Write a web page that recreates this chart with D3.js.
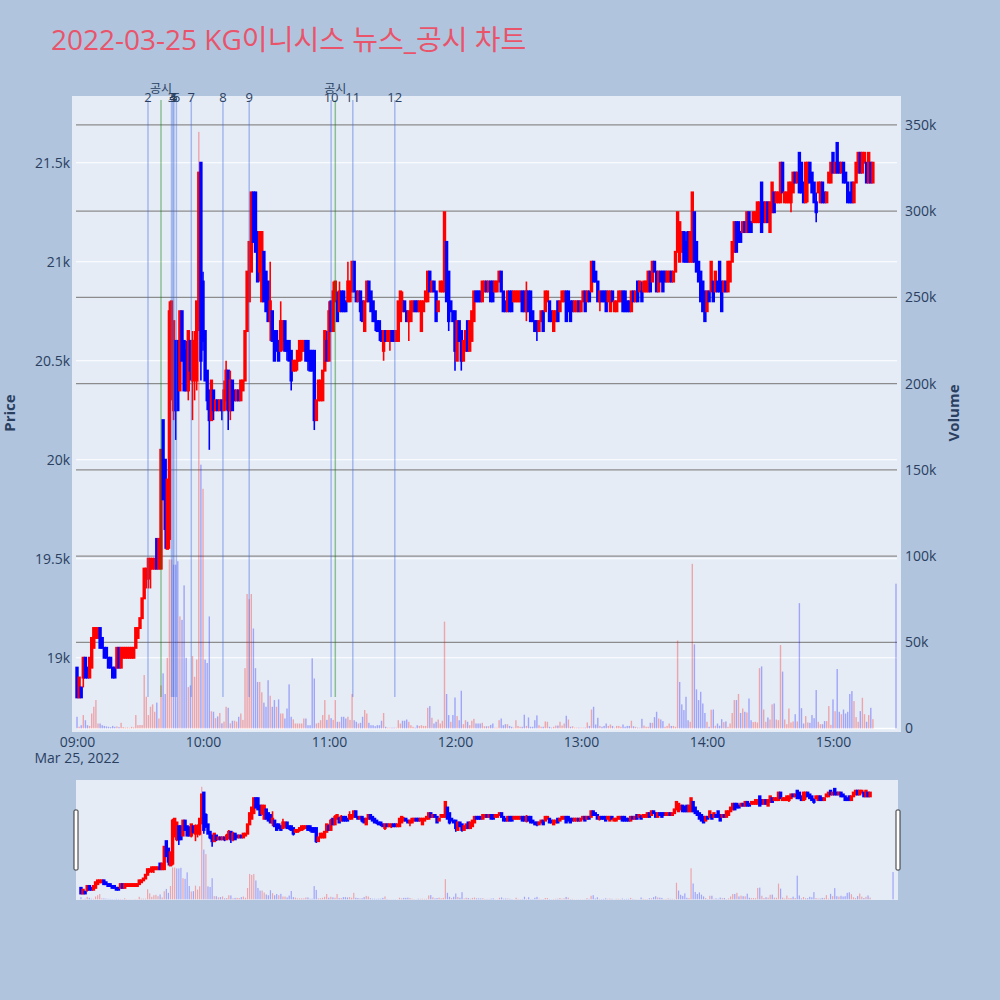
<!DOCTYPE html>
<html><head><meta charset="utf-8">
<script src="https://cdn.jsdelivr.net/npm/d3@7"></script>
<style>body{margin:0;background:#b0c4de;}svg{display:block}</style>
</head><body><svg id="chart" width="1000" height="1000"></svg>
<script>
const chartTitle = "2022-03-25 KG이니시스 뉴스_공시 차트";
const tradeDate = "2022-03-25";
const firstBarTime = "09:00";
const open = [
18950,18800,18850,18900,19000,18950,18900,18950,19050,19100,
19100,19150,19100,19050,19050,19000,19000,18950,18950,18950,
19050,18950,19000,19000,19000,19000,19000,19000,19050,19100,
19150,19200,19300,19400,19400,19450,19450,19450,19600,19450,
19450,20200,20000,19550,19600,20400,20250,20600,20600,20350,
20750,20600,20550,20350,20600,20400,20450,20400,20700,21500,
20900,20650,20450,20350,20200,20350,20250,20300,20250,20300,
20250,20300,20450,20250,20400,20350,20300,20350,20300,20350,
20400,20650,20800,20950,21350,21350,21150,20950,20800,21050,
20950,20900,20700,20750,20650,20650,20600,20550,20600,20700,
20600,20600,20550,20450,20450,20500,20500,20550,20550,20600,
20600,20550,20550,20550,20200,20300,20300,20300,20450,20600,
20500,20800,20650,20800,20800,20750,20850,20850,20800,20800,
20800,20850,21000,20850,20800,20850,20800,20650,20800,20900,
20850,20800,20750,20700,20700,20650,20550,20650,20600,20600,
20650,20650,20600,20600,20700,20750,20800,20750,20700,20700,
20750,20800,20800,20750,20650,20750,20800,20800,20950,20850,
20900,20850,20750,20850,20850,20850,21100,20950,20800,20750,
20750,20500,20700,20650,20500,20550,20700,20550,20600,20700,
20850,20850,20850,20800,20850,20900,20850,20900,20900,20850,
20850,20900,20950,20850,20800,20750,20850,20850,20800,20800,
20800,20800,20850,20850,20750,20850,20850,20750,20700,20700,
20650,20700,20750,20750,20800,20800,20750,20650,20700,20800,
20750,20800,20800,20850,20850,20800,20800,20750,20750,20800,
20750,20800,20850,20800,20850,20850,21000,20950,20900,20800,
20850,20850,20850,20800,20750,20850,20750,20750,20800,20800,
20850,20850,20800,20800,20750,20850,20800,20900,20850,20850,
20850,20850,20850,20950,20900,21000,20950,20850,20950,20950,
20950,20900,20900,20950,20900,20950,21050,21000,21050,21150,
21100,21150,21000,21000,21250,21100,21000,20950,20900,20850,
20750,20850,20850,20900,20850,20900,21000,20900,20850,20900,
20850,20900,21000,21050,21200,21200,21150,21150,21200,21150,
21250,21200,21200,21200,21200,21200,21400,21300,21200,21300,
21150,21250,21350,21300,21300,21300,21500,21300,21300,21300,
21300,21350,21450,21400,21550,21500,21400,21300,21400,21500,
21450,21400,21300,21350,21300,21400,21350,21300,21400,21400,
21550,21450,21600,21500,21450,21500,21450,21400,21350,21400,
21300,21400,21450,21550,21450,21500,21500,21400,21500,21400];
const high = [
18950,18900,18850,19000,19000,18950,19000,19100,19150,19150,
19150,19150,19100,19050,19050,19000,19000,18950,18950,19050,
19050,19050,19050,19050,19050,19050,19050,19050,19150,19150,
19200,19300,19450,19450,19500,19500,19500,19500,19600,19600,
20050,20200,20000,19900,20800,20800,20700,20600,20600,20750,
20750,20600,20600,20650,20600,20650,20650,20800,21450,21500,
20950,20650,20450,20350,20400,20350,20300,20300,20300,20300,
20400,20500,20450,20450,20400,20350,20350,20350,20400,20400,
20650,20950,21100,21350,21350,21350,21150,21150,21150,21050,
20950,20900,21000,20750,20650,20650,20600,20800,20700,20700,
20600,20600,20550,20500,20500,20550,20600,20600,20600,20600,
20600,20550,20550,20550,20300,20400,20400,20450,20650,20650,
20800,20800,20900,20900,20850,20900,20850,20850,20800,21000,
20900,21000,21000,20850,20850,20850,20800,20800,20900,20900,
20850,20800,20750,20700,20700,20650,20650,20650,20650,20650,
20650,20650,20650,20800,20850,20850,20800,20750,20750,20800,
20800,20800,20800,20800,20800,20800,20850,20950,20950,20900,
20900,20850,20800,20900,20900,21250,21100,20950,20800,20750,
20750,20700,20700,20650,20600,20650,20700,20700,20750,20850,
20850,20850,20850,20900,20900,20900,20900,20900,20900,20900,
20900,20950,20950,20850,20800,20850,20850,20850,20850,20850,
20850,20850,20850,20850,20900,20850,20850,20750,20700,20700,
20700,20750,20750,20850,20850,20800,20750,20750,20750,20800,
20800,20850,20850,20850,20850,20800,20800,20800,20800,20800,
20800,20850,20850,20850,20850,21000,21000,20950,20900,20850,
20850,20850,20850,20850,20850,20850,20800,20800,20850,20850,
20850,20850,20800,20800,20850,20850,20850,20900,20900,20900,
20900,20900,20950,20950,21000,21000,20950,20950,20950,20950,
20950,20950,20950,20950,20950,21050,21250,21200,21150,21150,
21150,21150,21150,21350,21250,21100,21000,20950,20900,20850,
20850,20850,21000,20900,20950,20900,21000,20900,20900,20900,
21000,21000,21100,21200,21200,21200,21150,21200,21200,21250,
21250,21200,21250,21250,21300,21300,21400,21300,21300,21300,
21300,21400,21350,21350,21350,21500,21500,21350,21350,21400,
21400,21450,21450,21450,21550,21500,21400,21500,21500,21500,
21450,21400,21350,21400,21400,21400,21350,21350,21450,21500,
21550,21500,21600,21500,21500,21500,21450,21400,21350,21400,
21400,21500,21550,21550,21550,21550,21500,21550,21500,21500];
const low = [
18800,18800,18800,18850,18900,18900,18900,18950,19050,19100,
19100,19050,19050,19000,19000,18950,18950,18900,18900,18950,
18950,18950,19000,19000,19000,19000,19000,19000,19050,19100,
19150,19200,19300,19350,19350,19350,19450,19450,19450,19450,
19450,19800,19550,19550,19550,20300,20200,20100,20250,20350,
20500,20350,20350,20300,20400,20200,20300,20350,20650,20400,
20550,20400,20250,20050,20200,20200,20250,20250,20250,20200,
20250,20250,20150,20200,20250,20300,20300,20300,20300,20350,
20400,20650,20800,20950,21100,21050,20900,20900,20800,20800,
20750,20700,20600,20600,20500,20550,20500,20550,20550,20550,
20500,20500,20350,20450,20450,20450,20500,20500,20550,20500,
20450,20450,20450,20150,20200,20300,20300,20300,20450,20500,
20500,20650,20650,20800,20700,20750,20750,20750,20750,20800,
20800,20850,20850,20800,20800,20700,20700,20650,20800,20800,
20750,20700,20650,20650,20600,20600,20500,20600,20600,20550,
20600,20600,20600,20600,20700,20750,20750,20700,20600,20700,
20750,20750,20750,20750,20650,20750,20800,20800,20850,20850,
20850,20700,20750,20850,20850,20850,20800,20650,20750,20700,
20450,20500,20600,20450,20500,20550,20550,20550,20600,20700,
20800,20800,20800,20800,20850,20850,20850,20800,20800,20850,
20850,20900,20850,20750,20750,20750,20750,20750,20800,20800,
20800,20800,20750,20750,20700,20750,20700,20700,20650,20600,
20650,20700,20650,20750,20800,20700,20700,20650,20700,20700,
20750,20800,20800,20700,20750,20700,20750,20750,20750,20750,
20750,20800,20750,20800,20800,20850,20900,20900,20800,20750,
20800,20800,20750,20800,20750,20800,20750,20750,20800,20800,
20750,20750,20750,20750,20750,20800,20800,20800,20850,20800,
20850,20850,20850,20850,20900,20950,20850,20850,20900,20850,
20900,20900,20900,20900,20900,20950,21050,21000,21050,21000,
21000,21000,21000,21000,21000,20950,20900,20800,20750,20700,
20750,20800,20850,20800,20850,20850,20850,20750,20850,20850,
20850,20900,21000,21050,21050,21100,21100,21150,21150,21150,
21150,21150,21200,21200,21200,21200,21150,21200,21200,21200,
21150,21250,21250,21300,21300,21300,21350,21300,21300,21300,
21250,21350,21400,21400,21350,21350,21300,21300,21300,21400,
21350,21300,21200,21350,21300,21300,21300,21300,21400,21400,
21450,21450,21450,21450,21450,21400,21400,21300,21300,21300,
21300,21400,21450,21450,21450,21500,21400,21400,21400,21400];
const close = [
18800,18900,18800,19000,18900,18900,19000,19100,19150,19150,
19150,19050,19050,19000,19000,18950,18950,18900,18900,19050,
18950,19050,19050,19050,19050,19050,19050,19050,19150,19150,
19200,19300,19450,19450,19500,19500,19500,19500,19450,19600,
20050,19800,19650,19900,20750,20800,20700,20250,20250,20750,
20500,20350,20350,20650,20450,20600,20600,20800,21450,20500,
20600,20400,20300,20200,20400,20250,20300,20250,20300,20250,
20350,20450,20250,20400,20250,20300,20350,20300,20400,20400,
20650,20950,21100,21350,21100,21050,20900,21150,21150,20800,
20750,20700,20800,20600,20500,20550,20500,20700,20700,20550,
20550,20500,20400,20500,20500,20550,20600,20600,20600,20500,
20500,20450,20450,20200,20300,20400,20400,20450,20650,20500,
20750,20650,20850,20900,20700,20850,20750,20750,20750,20900,
20900,21000,20850,20800,20850,20750,20700,20800,20900,20800,
20750,20700,20700,20650,20650,20600,20650,20600,20650,20650,
20600,20600,20650,20800,20850,20800,20750,20700,20750,20800,
20800,20750,20750,20800,20800,20800,20850,20950,20850,20900,
20850,20700,20800,20900,20900,21250,20800,20700,20750,20700,
20550,20700,20600,20500,20600,20650,20550,20700,20750,20850,
20800,20800,20800,20900,20900,20850,20900,20800,20800,20900,
20900,20950,20850,20750,20750,20850,20750,20750,20850,20850,
20850,20850,20750,20750,20850,20750,20700,20700,20650,20650,
20700,20750,20650,20850,20850,20700,20700,20750,20750,20700,
20800,20850,20850,20700,20750,20700,20750,20800,20800,20750,
20800,20850,20750,20850,20800,21000,20900,20900,20800,20850,
20800,20800,20750,20850,20850,20800,20800,20800,20850,20850,
20750,20750,20750,20750,20850,20800,20850,20800,20900,20800,
20900,20900,20950,20850,21000,20950,20850,20950,20900,20850,
20900,20950,20950,20900,20950,21050,21250,21200,21150,21000,
21000,21000,21150,21350,21000,20950,20900,20800,20750,20700,
20850,20800,21000,20800,20950,20850,20850,20750,20900,20850,
21000,21000,21100,21200,21050,21100,21100,21200,21150,21250,
21150,21150,21250,21250,21300,21300,21150,21200,21300,21200,
21300,21400,21250,21350,21350,21500,21350,21350,21350,21400,
21400,21450,21400,21450,21350,21350,21300,21500,21500,21400,
21350,21300,21250,21400,21400,21300,21300,21350,21450,21500,
21450,21500,21450,21450,21500,21400,21400,21300,21300,21300,
21400,21500,21550,21450,21550,21550,21400,21550,21400,21500];
const volume = [
6800,1000,1900,7800,4800,1900,1500,8700,12600,16500,
2900,2900,1900,1500,1200,1000,800,1500,1000,1200,
800,3300,800,500,600,400,1000,600,7800,1900,
2000,2000,31000,18400,7800,12600,14000,9700,15000,5800,
25000,32000,20000,41000,98000,98000,95000,95000,97000,65000,
63000,83000,41000,24000,25000,42000,30000,40000,346000,153000,
139000,40000,38000,65000,10000,9700,6000,7000,9000,3000,
4000,12600,12000,3000,4500,4500,4000,6800,8700,5000,
35000,78000,75000,78000,58000,35000,27000,27000,21000,15000,
12600,28000,19000,12600,16500,12600,16900,8700,8700,5800,
11600,25600,6800,5300,2900,2900,2900,2900,5800,5800,
1900,1900,40700,29000,2900,3300,4800,7800,16500,5000,
8000,6000,5000,16500,3900,3900,6800,6800,5800,6800,
5000,20000,4800,3900,2900,3300,6800,10700,8700,3300,
1900,1900,1300,1900,1900,4500,9000,1000,500,500,
500,500,500,4800,2900,4500,4500,5200,3900,1900,
1000,500,1900,1500,1900,1500,1500,12000,13000,6200,
2900,3900,5200,2900,4500,62000,20000,7800,3900,7800,
18000,7200,4800,21900,2500,4800,3900,1900,4500,5600,
2900,2900,2900,3300,1300,1300,1300,2100,2900,500,
500,4800,5800,1900,2500,2500,1500,1000,500,4800,
1500,1000,1000,8000,1500,6400,1000,1000,4800,7600,
1900,1000,1000,4100,3900,1000,500,1000,1700,1700,
3900,1700,2900,7400,5200,1000,1300,500,500,500,
500,500,500,3500,1500,11000,12600,2300,6200,1500,
1000,1500,2900,1500,2300,1500,500,1500,1500,1000,
2300,1000,1500,1500,4500,1300,1000,500,500,5600,
1700,1000,1000,3300,3300,6600,9700,5800,5200,4300,
1000,1500,2900,1500,1500,1000,51000,27000,14000,10700,
18400,4800,3900,95500,48800,22700,16500,21300,14500,9000,
3900,1000,10900,11000,1600,2900,1600,5400,3700,4100,
1000,2900,9000,16500,16500,20000,9000,11600,9700,9300,
17400,4800,3700,3900,3500,35000,36000,11000,3900,6400,
5200,14000,14500,5200,4800,48400,33000,5200,2500,11600,
3500,4100,8300,4100,72700,11800,2900,7200,3500,3300,
7800,6000,22300,3900,2500,2500,4300,4300,13000,2100,
16900,10000,34500,9700,8300,11000,8700,9700,20000,21700,
15900,6600,3900,10100,17800,8300,3900,7800,12000,5400];
// closing single-price auction bar
const auctionTime = "15:30";
const auctionOHLC = [21450, 21450, 21450, 21450];
const auctionVolume = 84000;

const xRange = ["08:57:37", "15:32:23"];
const priceRange = [18625, 21837];
const volumeRange = [-2030, 366800];
const timeTicks = ["09:00","10:00","11:00","12:00","13:00","14:00","15:00"];
const priceTicks = [19000,19500,20000,20500,21000,21500];
const volumeTicks = [0,50000,100000,150000,200000,250000,300000,350000];
const newsLabels = ["2","3","4","5","6","7","8","9","10","11","12"];
const newsTimes = ["09:33:48","09:45:00","09:45:40","09:46:10","09:47:20","09:54:25","10:09:30","10:22:00","11:01:00","11:11:20","11:31:20"];
const disclosureLabels = ["공시","공시"];
const disclosureTimes = ["09:40:00","11:03:00"];

const RED = "#ff0000", BLUE = "#0000ff";
const FONT = "'Open Sans','Noto Sans CJK KR',sans-serif";
const TXT = "#2a3f5f";
const parseT = s => d3.timeParse("%Y-%m-%d %H:%M:%S")(tradeDate + " " + (s.length === 5 ? s + ":00" : s));

const t0 = parseT(firstBarTime);
const bars = open.map((o, i) => ({t: d3.timeMinute.offset(t0, i), o, h: high[i], l: low[i], c: close[i], v: volume[i]}));
bars.push({t: parseT(auctionTime), o: auctionOHLC[0], h: auctionOHLC[1], l: auctionOHLC[2], c: auctionOHLC[3], v: auctionVolume});
bars.forEach((d, i) => {
  d.col = d.c >= d.o ? RED : BLUE;
  const pc = i ? bars[i - 1].c : d.o;
  d.vcol = d.c > pc ? RED : d.c < pc ? BLUE : d.col;
});

const svg = d3.select("#chart");
const L = 72, R = 901, T = 96, B = 732;
const gL = 76, gR = 897;

svg.append("text").attr("x", 51).attr("y", 50).attr("font-family", FONT).attr("font-size", 28)
  .attr("fill", "#e9546b").text(chartTitle);

const x = d3.scaleTime().domain(xRange.map(parseT)).range([L, R]);
const yP = d3.scaleLinear().domain(priceRange).range([B, T]);
const yV = d3.scaleLinear().domain(volumeRange).range([B, T]);

svg.append("rect").attr("x", L).attr("y", T).attr("width", R - L).attr("height", B - T).attr("fill", "#e5ecf6");
svg.append("defs").append("clipPath").attr("id", "clipMain").append("rect")
  .attr("x", L).attr("y", T).attr("width", R - L).attr("height", B - T);

const plot = svg.append("g").attr("clip-path", "url(#clipMain)");
plot.selectAll("line.pg").data(priceTicks).join("line")
  .attr("x1", gL).attr("x2", gR).attr("y1", d => yP(d)).attr("y2", d => yP(d))
  .attr("stroke", "#fff").attr("stroke-width", 1.2);
plot.append("line").attr("x1", gL).attr("x2", gR).attr("y1", yV(0)).attr("y2", yV(0))
  .attr("stroke", "#fff").attr("stroke-width", 1.5);
plot.selectAll("line.vg").data(volumeTicks.filter(v => v > 0)).join("line")
  .attr("x1", gL).attr("x2", gR).attr("y1", d => yV(d)).attr("y2", d => yV(d))
  .attr("stroke", "#8c8c8c").attr("stroke-width", 1.2);

function drawVolume(g, xs, ys, w) {
  g.selectAll("rect.v").data(bars).join("rect")
    .attr("x", d => xs(d.t) - w / 2).attr("width", w)
    .attr("y", d => ys(d.v)).attr("height", d => Math.max(0, ys(0) - ys(d.v)))
    .attr("fill", d => d.vcol).attr("fill-opacity", 0.3);
}
function drawCandles(g, xs, ys) {
  const c = g.selectAll("g.c").data(bars).join("g");
  c.append("line").attr("x1", d => xs(d.t)).attr("x2", d => xs(d.t))
    .attr("y1", d => ys(d.h)).attr("y2", d => ys(d.l))
    .attr("stroke", d => d.col).attr("stroke-width", 1.6);
  c.append("rect").attr("x", d => xs(d.t) - 0.7).attr("width", 1.4)
    .attr("y", d => ys(Math.max(d.o, d.c))).attr("height", d => Math.abs(ys(d.o) - ys(d.c)))
    .attr("fill", d => d.col).attr("stroke", d => d.col).attr("stroke-width", 2);
}
drawVolume(plot.append("g"), x, yV, 1.4);
drawCandles(plot.append("g"), x, yP);

// news / disclosure marker lines
const marks = newsTimes.map((t, i) => ({t: parseT(t), label: newsLabels[i], kind: "news"}))
  .concat(disclosureTimes.map((t, i) => ({t: parseT(t), label: disclosureLabels[i], kind: "disc"})));
svg.selectAll("line.mk").data(marks).join("line")
  .attr("x1", d => x(d.t)).attr("x2", d => x(d.t)).attr("y1", 100).attr("y2", 697)
  .attr("stroke", d => d.kind === "news" ? "rgba(65,105,225,0.4)" : "rgba(0,128,0,0.4)").attr("stroke-width", 1.5);
svg.selectAll("text.mk").data(marks).join("text")
  .attr("x", d => x(d.t)).attr("y", d => d.kind === "news" ? 101.5 : 93)
  .attr("text-anchor", "middle").attr("font-family", FONT).attr("font-size", d => d.kind === "news" ? 13 : 12)
  .attr("fill", TXT).text(d => d.label);

// axes
const axX = svg.append("g").attr("transform", `translate(0,${B})`)
  .call(d3.axisBottom(x).tickValues(timeTicks.map(parseT)).tickFormat(d3.timeFormat("%H:%M")).tickSize(0).tickPadding(5));
const axL = svg.append("g").attr("transform", `translate(${L},0)`)
  .call(d3.axisLeft(yP).tickValues(priceTicks).tickFormat(d3.format("~s")).tickSize(0).tickPadding(2));
const axR = svg.append("g").attr("transform", `translate(${R},0)`)
  .call(d3.axisRight(yV).tickValues(volumeTicks).tickFormat(d3.format("~s")).tickSize(0).tickPadding(4));
[axX, axL, axR].forEach(a => {
  a.select(".domain").remove();
  a.selectAll("text").attr("font-family", FONT).attr("font-size", 14).attr("fill", TXT);
});
svg.append("text").attr("x", x(parseT(firstBarTime))).attr("y", 763).attr("text-anchor", "middle")
  .attr("font-family", FONT).attr("font-size", 14).attr("fill", TXT).text("Mar 25, 2022");
svg.append("text").attr("transform", "translate(15,413) rotate(-90)").attr("text-anchor", "middle")
  .attr("font-family", FONT).attr("font-size", 15).attr("font-weight", "bold").attr("fill", TXT).text("Price");
svg.append("text").attr("transform", "translate(959,413) rotate(-90)").attr("text-anchor", "middle")
  .attr("font-family", FONT).attr("font-size", 15).attr("font-weight", "bold").attr("fill", TXT).text("Volume");

// range slider
const sL = 76, sR = 898, sT = 780, sB = 900;
svg.append("rect").attr("x", sL).attr("y", sT).attr("width", sR - sL).attr("height", sB - sT).attr("fill", "#e5ecf6");
svg.append("defs").append("clipPath").attr("id", "clipS").append("rect")
  .attr("x", sL).attr("y", sT).attr("width", sR - sL).attr("height", sB - sT);
const xs = d3.scaleTime().domain(xRange.map(parseT)).range([sL, sR]);
const ysP = d3.scaleLinear().domain(priceRange).range([sB, sT]);
const ysV = d3.scaleLinear().domain(volumeRange).range([sB, sT]);
const sg = svg.append("g").attr("clip-path", "url(#clipS)");
drawVolume(sg.append("g"), xs, ysV, 1.2);
drawCandles(sg.append("g"), xs, ysP);
[sL - 2, sR - 2].forEach(hx => {
  svg.append("rect").attr("x", hx).attr("y", 810).attr("width", 4).attr("height", 60)
    .attr("rx", 1).attr("fill", "#fff").attr("stroke", "#333").attr("stroke-width", 1);
});
</script></body></html>
